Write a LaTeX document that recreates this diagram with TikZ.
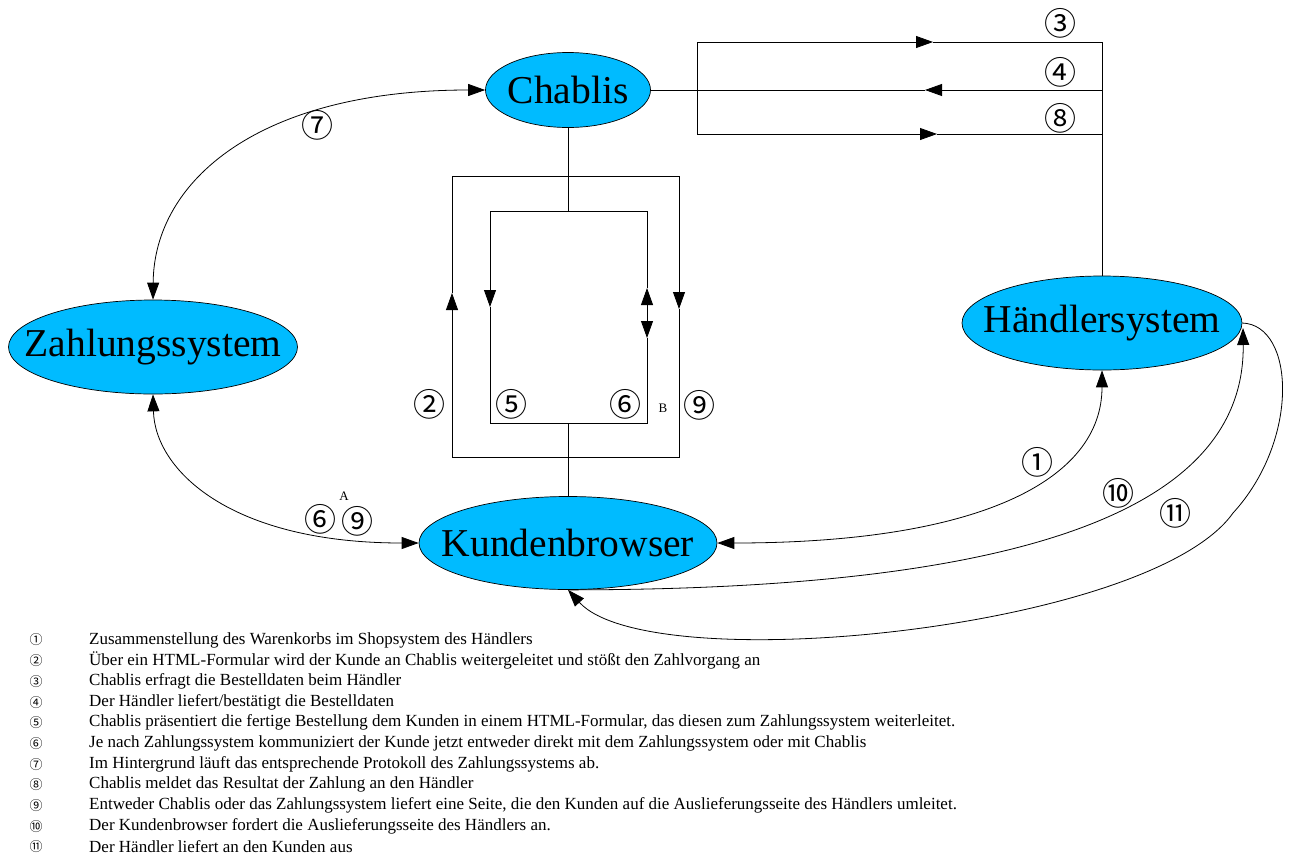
\documentclass[tikz,border=0pt]{standalone}
\usepackage{fontspec}
\setmainfont{Liberation Serif}
\newfontfamily\cjkfont{Noto Sans CJK JP}
\usetikzlibrary{arrows.meta,shapes.geometric}
\definecolor{nodeblue}{RGB}{0,187,255}
\newcommand{\fixw}[1]{\makebox[0pt][c]{#1}}
\begin{document}
\begin{tikzpicture}[x=1pt,y=-1pt,
  sys/.style={ellipse,draw=black,line width=0.7pt,fill=nodeblue,inner sep=0pt,font=\fontsize{39.5}{40}\selectfont},
  conn/.style={line width=0.8pt},
  arr/.style={conn,-{Triangle[length=17pt,width=12pt]}},
  arrboth/.style={conn,{Triangle[length=17pt,width=12pt]}-{Triangle[length=17pt,width=12pt]}},
  circ/.style={inner sep=0pt,font=\cjkfont\fontsize{32}{32}\selectfont},
  smalllbl/.style={inner sep=0pt,font=\fontsize{13}{13}\selectfont},
  legnum/.style={inner sep=0pt,font=\cjkfont\fontsize{13}{13}\selectfont},
  legtxt/.style={inner sep=0pt,anchor=west,font=\fontsize{17}{17}\selectfont}]
\useasboundingbox (0,0) rectangle (1289,857);

% main nodes
\node[sys,minimum width=165pt,minimum height=75pt] (C) at (568,90) {\fixw{Chablis}};
\node[sys,minimum width=289pt,minimum height=94pt] (Z) at (153,347) {\fixw{Zahlungssystem}};
\node[sys,minimum width=280pt,minimum height=94pt] (H) at (1102,323) {\fixw{Händlersystem}};
\node[sys,minimum width=298pt,minimum height=93pt] (K) at (568,543) {\fixw{Kundenbrowser}};

% coordinates for the orthogonal connectors
\coordinate (octop) at (568,176);
\coordinate (ocbot) at (568,457);
\coordinate (ictop) at (568,211);
\coordinate (icbot) at (568,423);
\coordinate (a2) at (452,293);
\coordinate (a9) at (679,309);
\coordinate (a5) at (490,307);
\coordinate (a6u) at (647,288);
\coordinate (a6d) at (647,338);

\coordinate (r3) at (1102,42);
\coordinate (r4) at (1102,90);
\coordinate (r8) at (1102,134);
\coordinate (l3) at (697,42);
\coordinate (l8) at (697,134);
\coordinate (a3) at (933,42);
\coordinate (a4) at (925,90);
\coordinate (a8) at (937,134);

% vertical trunks
\draw[conn] (C.south) -- (ictop);
\draw[conn] (K.north) -- (icbot);
% 2 (outer left, up)
\draw[arr] (ocbot) -| (a2);
\draw[conn] (a2) |- (octop);
% 9 (outer right, down)
\draw[arr] (octop) -| (a9);
\draw[conn] (a9) |- (ocbot);
% 5 (inner left, down)
\draw[arr] (ictop) -| (a5);
\draw[conn] (a5) |- (icbot);
% 6 (inner right, both)
\draw[conn] (ictop) -| (a6u);
\draw[arrboth] (a6u) -- (a6d);
\draw[conn] (a6d) |- (icbot);

% top right: 3, 4, 8
\draw[conn] (H.north) -- (r3);
\draw[arr] (r4) -- (a4);
\draw[conn] (a4) -- (C.east);
\draw[conn] (l3) -- (l8);
\draw[arr] (l3) -- (a3);
\draw[conn] (a3) -- (r3);
\draw[arr] (l8) -- (a8);
\draw[conn] (a8) -- (r8);

% curved connectors
\draw[arrboth] (Z.north) .. controls (154,180) and (260,90) .. (C.west);
\draw[arrboth] (Z.south) .. controls (155,470) and (230,543) .. (K.west);
\draw[arrboth] (K.east) .. controls (980,543) and (1102,480) .. (H.south);
\coordinate (h10) at (1243,328);
\draw[arr] (K.south) .. controls (1050,590) and (1245,500) .. (h10);
\coordinate (m11) at (1233,513);
\draw[arr] (H.east) .. controls (1295,325) and (1300,440) .. (m11) .. controls (1150,630) and (650,680) .. (K.south);

% labels
\node[circ] (l3n) at (1060,23) {③};
\node[circ] (l4n) at (1060,72) {④};
\node[circ] (l8n) at (1060,118) {⑧};
\node[circ] (l7n) at (317,125) {⑦};
\node[circ] (l2n) at (429,404) {②};
\node[circ] (l5n) at (511,404) {⑤};
\node[circ] (l6n) at (625,404) {⑥};
\node[smalllbl] (lB) at (663,408) {B};
\node[circ] (l9n) at (699,405) {⑨};
\node[circ] (l6a) at (320,519) {⑥};
\node[circ] (l9a) at (357,521) {⑨};
\node[smalllbl] (lA) at (344,496) {A};
\node[circ] (l1n) at (1037,462) {①};
\node[circ] (l10n) at (1118,493) {⑩};
\node[circ] (l11n) at (1175,513) {⑪};

% legend
\node[legnum] (n1) at (36,640) {①};
\node[legtxt] (t1) at (89,640) {Zusammenstellung des Warenkorbs im Shopsystem des Händlers};
\node[legnum] (n2) at (36,660.7) {②};
\node[legtxt] (t2) at (89,660.7) {Über ein HTML-Formular wird der Kunde an Chablis weitergeleitet und stößt den Zahlvorgang an};
\node[legnum] (n3) at (36,681.4) {③};
\node[legtxt] (t3) at (89,681.4) {Chablis erfragt die Bestelldaten beim Händler};
\node[legnum] (n4) at (36,702.1) {④};
\node[legtxt] (t4) at (89,702.1) {Der Händler liefert/bestätigt die Bestelldaten};
\node[legnum] (n5) at (36,722.8) {⑤};
\node[legtxt] (t5) at (89,722.8) {Chablis präsentiert die fertige Bestellung dem Kunden in einem HTML-Formular, das diesen zum Zahlungssystem weiterleitet.};
\node[legnum] (n6) at (36,743.5) {⑥};
\node[legtxt] (t6) at (89,743.5) {Je nach Zahlungssystem kommuniziert der Kunde jetzt entweder direkt mit dem Zahlungssystem oder mit Chablis};
\node[legnum] (n7) at (36,764.2) {⑦};
\node[legtxt] (t7) at (89,764.2) {Im Hintergrund läuft das entsprechende Protokoll des Zahlungssystems ab.};
\node[legnum] (n8) at (36,784.9) {⑧};
\node[legtxt] (t8) at (89,784.9) {Chablis meldet das Resultat der Zahlung an den Händler};
\node[legnum] (n9) at (36,805.6) {⑨};
\node[legtxt] (t9) at (89,805.6) {Entweder Chablis oder das Zahlungssystem liefert eine Seite, die den Kunden auf die Auslieferungsseite des Händlers umleitet.};
\node[legnum] (n10) at (36,826.3) {⑩};
\node[legtxt] (t10) at (89,826.3) {Der Kundenbrowser fordert die Auslieferungsseite des Händlers an.};
\node[legnum] (n11) at (36,847) {⑪};
\node[legtxt] (t11) at (89,847) {Der Händler liefert an den Kunden aus};
\end{tikzpicture}
\end{document}
